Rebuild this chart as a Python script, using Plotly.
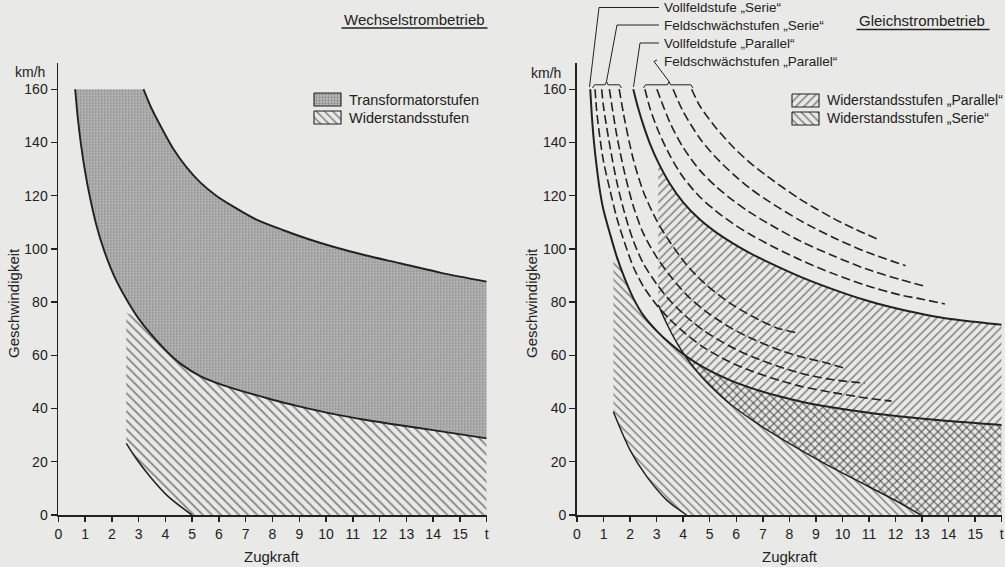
import plotly.graph_objects as go

W, H = 1005, 567
BG = "#e9e9e7"
INK = "#222222"
FONT = "Liberation Sans"

# ---------------- data : Wechselstrombetrieb (left) ----------------
F_MAX = 16.0
x_tick_vals = list(range(0, 17))
x_tick_text = [str(v) for v in range(0, 16)] + ["t"]
y_tick_vals = [0, 20, 40, 60, 80, 100, 120, 140, 160]
y_tick_text = [str(v) for v in y_tick_vals]

ac_main_x = [0.63, 0.72, 0.85, 1.0, 1.19, 1.42, 1.69, 2.1, 2.56, 3.0, 3.43, 4.05, 4.6, 5.3, 6.2, 7.16, 8.0, 9.03, 10.2, 11.5, 12.7, 14.0, 16.0]
ac_main_y = [160, 150, 139, 129, 119, 109, 100, 89.5, 80.8, 73.8, 68.3, 61.5, 56.6, 52.2, 48.6, 45.7, 43.3, 40.7, 38.1, 35.7, 33.8, 31.9, 28.8]
ac_upper_x = [3.18, 3.45, 3.75, 4.3, 4.8, 5.3, 5.9, 6.54, 7.4, 8.41, 9.3, 10.27, 11.5, 12.76, 14.3, 16.0]
ac_upper_y = [160, 153.5, 147.5, 137.5, 130.5, 125, 120, 115.9, 111, 107, 103.8, 100.8, 97.5, 94.6, 91, 87.7]
ac_res_x = [2.54, 2.9, 3.43, 4.1, 4.99]
ac_res_y = [26.9, 21.3, 14.4, 7.0, 0]
ac_res_left = 2.54
ac_res_top = 76

# ---------------- data : Gleichstrombetrieb (right) ----------------
dc_sv_x = [0.5, 0.56, 0.64, 0.74, 0.86, 1.0, 1.24, 1.5, 1.8, 2.12, 2.5, 3.0, 3.5, 4.13, 4.8, 5.76, 6.6, 7.65, 8.5, 9.53, 11.0, 12.2, 14.0, 16.0]
dc_sv_y = [160, 150, 140, 131, 122, 114.5, 105.8, 97, 88.8, 81.5, 75, 69.2, 64.5, 59.5, 55.3, 50.7, 47.6, 44.5, 42.5, 40.6, 38.4, 37, 35.3, 33.8]

dc_pv_x = [2.12, 2.3, 2.5, 2.75, 3.06, 3.5, 4.0, 4.63, 5.2, 5.89, 6.5, 7.14, 8.4, 9.65, 10.91, 12.17, 13.42, 14.6, 16.0]
dc_pv_y = [160, 153, 146.5, 139.5, 132.5, 124.5, 117.5, 111, 106.5, 102, 98.5, 95.3, 89.6, 84.8, 80.6, 77.3, 74.7, 73, 71.5]

dc_s1_x = [0.68, 0.74, 0.86, 1.0, 1.24, 1.5, 1.8, 2.12, 2.5, 3.0, 3.5, 4.13, 4.8, 5.76, 6.6, 7.65, 8.5, 9.53, 11.0, 11.85]
dc_s1_y = [160, 152, 142, 132.8, 122.2, 111.6, 102.1, 93.3, 85.9, 78.9, 73.5, 67.8, 62.8, 57.5, 54, 50.5, 48.2, 46.2, 43.8, 42.8]
dc_s2_x = [0.93, 1.0, 1.24, 1.5, 1.8, 2.12, 2.5, 3.0, 3.5, 4.13, 4.8, 5.76, 6.6, 7.65, 8.5, 9.53, 10.85]
dc_s2_y = [160, 153.4, 138.6, 125.1, 113.2, 103.1, 94.5, 86.8, 80.6, 74.4, 69.1, 63.4, 59.5, 55.6, 53.1, 51, 49.5]
dc_s3_x = [1.22, 1.5, 1.8, 2.12, 2.5, 3.0, 3.5, 4.13, 4.8, 5.76, 6.6, 7.65, 8.5, 9.3, 10.09]
dc_s3_y = [160, 142.6, 128.3, 116.1, 105.8, 96.9, 90, 82.7, 76.9, 70.5, 66.2, 61.9, 59.3, 57.4, 55.1]
dc_s4_x = [1.59, 1.8, 2.12, 2.5, 3.0, 3.5, 4.13, 4.8, 5.76, 6.6, 7.5, 8.34]
dc_s4_y = [160, 148.3, 133.7, 121.5, 110.7, 102.6, 94, 87.1, 79.6, 74.7, 70.4, 68.3]

dc_p1_x = [2.56, 2.75, 3.06, 3.5, 4.0, 4.63, 5.2, 5.89, 6.5, 7.14, 8.4, 9.65, 10.91, 12.17, 13.0, 13.86]
dc_p1_y = [160, 152.8, 144.4, 135.1, 126.9, 119.5, 114.5, 109.4, 105.6, 102.1, 95.9, 90.7, 86.2, 82.7, 81.1, 79.3]
dc_p2_x = [3.01, 3.5, 4.0, 4.63, 5.2, 5.89, 6.5, 7.14, 8.4, 9.65, 10.91, 12.17, 13.17]
dc_p2_y = [160, 147.5, 138.1, 129.5, 123.8, 118.1, 113.8, 109.9, 103, 97.4, 92.4, 88.5, 85.8]
dc_p3_x = [3.62, 4.0, 4.63, 5.2, 5.89, 6.5, 7.14, 8.4, 9.65, 10.91, 12.38]
dc_p3_y = [160, 151.6, 141.5, 134.7, 128, 122.9, 118.4, 110.7, 104.3, 98.8, 93.7]
dc_p4_x = [4.32, 4.63, 5.2, 5.89, 6.5, 7.14, 8.4, 9.65, 10.5, 11.41]
dc_p4_y = [160, 153.7, 145.9, 138.2, 132.5, 127.5, 118.7, 111.5, 107.3, 103.3]

dc_sr_x = [1.37, 2.0, 2.63, 3.38, 4.13]
dc_sr_y = [38.8, 24.4, 14.4, 5.6, 0]
dc_sr_left = 1.37
dc_sr_top = 95

dc_pr_x = [3.06, 3.4, 3.8, 4.13, 4.6, 5.0, 5.76, 6.7, 7.65, 8.4, 9.65, 10.91, 12.17, 12.95]
dc_pr_y = [79, 71.5, 64, 59, 53, 48.7, 41.8, 35, 29, 24.6, 17.6, 11.1, 4.5, 0]

# ---------------- figure ----------------
fig = go.Figure()

def hatch(shape, size):
    return dict(shape=shape, size=size, solidity=0.28, fgcolor="#262626",
                bgcolor="rgba(0,0,0,0)")

stipple = dict(shape=".", size=3, solidity=0.45, fgcolor="#555555", bgcolor="#c0c0c0")

# left: transformer region
fig.add_trace(go.Scatter(x=ac_main_x + ac_upper_x[::-1], y=ac_main_y + ac_upper_y[::-1],
                         fill="toself", fillcolor="rgba(0,0,0,0)", fillpattern=stipple,
                         mode="none", xaxis="x", yaxis="y", hoverinfo="skip"))
# left: resistance region
sel = [i for i, v in enumerate(ac_main_x) if v >= 3.0]
px_ = [ac_res_x[0], ac_res_left] + [ac_main_x[i] for i in sel] + [F_MAX] + ac_res_x[::-1]
py_ = [ac_res_y[0], ac_res_top] + [ac_main_y[i] for i in sel] + [0] + ac_res_y[::-1]
fig.add_trace(go.Scatter(x=px_, y=py_, fill="toself", fillcolor="rgba(0,0,0,0)",
                         fillpattern=hatch("\\", 6.4), mode="none", xaxis="x", yaxis="y",
                         hoverinfo="skip"))

# right: serie resistance region
sel = [i for i, v in enumerate(dc_sv_x) if v >= 1.5]
px_ = [dc_sr_x[0], dc_sr_left] + [dc_sv_x[i] for i in sel] + [F_MAX] + dc_sr_x[::-1]
py_ = [dc_sr_y[0], dc_sr_top] + [dc_sv_y[i] for i in sel] + [0] + dc_sr_y[::-1]
fig.add_trace(go.Scatter(x=px_, y=py_, fill="toself", fillcolor="rgba(0,0,0,0)",
                         fillpattern=hatch("\\", 5.8), mode="none", xaxis="x2", yaxis="y2",
                         hoverinfo="skip"))
# right: parallel resistance region
sel = [i for i, v in enumerate(dc_pv_x) if v >= dc_pr_x[0]]
px_ = [dc_pr_x[0]] + [dc_pv_x[i] for i in sel] + [F_MAX] + dc_pr_x[::-1]
py_ = [dc_pr_y[0]] + [dc_pv_y[i] for i in sel] + [0] + dc_pr_y[::-1]
fig.add_trace(go.Scatter(x=px_, y=py_, fill="toself", fillcolor="rgba(0,0,0,0)",
                         fillpattern=hatch("/", 5.8), mode="none", xaxis="x2", yaxis="y2",
                         hoverinfo="skip"))

def curve(x, y, ax, width=1.8, dash="solid"):
    fig.add_trace(go.Scatter(x=x, y=y, mode="lines", xaxis=ax[0], yaxis=ax[1],
                             line=dict(color=INK, width=width, dash=dash, shape="spline", smoothing=0.8),
                             hoverinfo="skip"))

L = ("x", "y")
R = ("x2", "y2")
curve(ac_main_x, ac_main_y, L, 1.9)
curve(ac_upper_x, ac_upper_y, L, 1.9)
curve(ac_res_x, ac_res_y, L, 1.6)

curve(dc_sv_x, dc_sv_y, R, 2.0)
curve(dc_pv_x, dc_pv_y, R, 2.0)
curve(dc_sr_x, dc_sr_y, R, 1.5)
curve(dc_pr_x, dc_pr_y, R, 1.5)
for xs, ys in [(dc_s1_x, dc_s1_y), (dc_s2_x, dc_s2_y), (dc_s3_x, dc_s3_y), (dc_s4_x, dc_s4_y),
               (dc_p1_x, dc_p1_y), (dc_p2_x, dc_p2_y), (dc_p3_x, dc_p3_y), (dc_p4_x, dc_p4_y)]:
    curve(xs, ys, R, 1.6, dash="9px,4px")

# legend swatches (decoration, pixel coordinates on overlay axis)
def swatch(x0, y0, pattern):
    fig.add_trace(go.Scatter(x=[x0, x0 + 27, x0 + 27, x0, x0], y=[y0, y0, y0 + 13, y0 + 13, y0],
                             fill="toself", fillcolor="rgba(0,0,0,0)", fillpattern=pattern,
                             mode="lines", line=dict(color=INK, width=1.1),
                             xaxis="x3", yaxis="y3", hoverinfo="skip"))

swatch(314, 93, stipple)
swatch(314, 111, hatch("\\", 5.8))
swatch(792, 94, hatch("/", 5.8))
swatch(792, 112, hatch("\\", 5.8))

# ---------------- axes ----------------
ydom = [(H - 515) / H, (H - 62.6) / H]
common_x = dict(range=[0, F_MAX], tickvals=x_tick_vals, ticktext=x_tick_text, ticks="outside",
                ticklen=5, tickwidth=1.4, tickcolor=INK, showline=True, linewidth=1.8, linecolor=INK,
                showgrid=False, zeroline=False, fixedrange=True,
                tickfont=dict(family=FONT, size=14, color=INK))
common_y = dict(range=[0, 170], tickvals=y_tick_vals, ticktext=y_tick_text, ticks="outside",
                ticklen=6, tickwidth=1.4, tickcolor=INK, showline=True, linewidth=1.8, linecolor=INK,
                showgrid=False, zeroline=False, fixedrange=True, domain=ydom,
                tickfont=dict(family=FONT, size=14, color=INK))

fig.update_layout(
    width=W, height=H, margin=dict(l=0, r=0, t=0, b=0, autoexpand=False),
    paper_bgcolor=BG, plot_bgcolor="rgba(0,0,0,0)", showlegend=False,
    font=dict(family=FONT, color=INK, size=14),
    xaxis=dict(domain=[58.3 / W, 486.7 / W], anchor="y", **common_x),
    yaxis=dict(anchor="x", **common_y),
    xaxis2=dict(domain=[577 / W, 1001.7 / W], anchor="y2", **common_x),
    yaxis2=dict(anchor="x2", **common_y),
    xaxis3=dict(domain=[0, 1], range=[0, W], visible=False, anchor="y3", fixedrange=True),
    yaxis3=dict(domain=[0, 1], range=[H, 0], visible=False, anchor="x3", fixedrange=True),
)

# ---------------- texts & decorations ----------------
def text(x, y, s, size=14, xanchor="left", angle=0):
    fig.add_annotation(x=x, y=y, xref="x3", yref="y3", text=s, showarrow=False,
                       xanchor=xanchor, yanchor="middle", textangle=angle,
                       font=dict(family=FONT, size=size, color=INK))

def path(pts, width=1.0):
    d = "M " + " L ".join(f"{a},{b}" for a, b in pts)
    fig.add_shape(type="path", path=d, xref="x3", yref="y3",
                  line=dict(color=INK, width=width))

text(341.5, 19, "Wechselstrombetrieb", 15)
path([(341.5, 28), (487.5, 28)], 1.4)
text(856.5, 20, "Gleichstrombetrieb", 15)
path([(856.5, 29.5), (989.5, 29.5)], 1.4)

text(29.5, 72, "km/h", 14, "center")
text(546, 73, "km/h", 14, "center")
text(13, 303, "Geschwindigkeit", 15, "center", -90)
text(531, 303, "Geschwindigkeit", 15, "center", -90)
text(272, 556, "Zugkraft", 15, "center")
text(790, 556, "Zugkraft", 15, "center")

text(347, 99.5, "Transformatorstufen", 14.5)
text(347, 117.5, "Widerstandsstufen", 14.5)
text(825, 100, "Widerstandsstufen \u201eParallel\u201c", 14)
text(825, 118, "Widerstandsstufen \u201eSerie\u201c", 14)

text(662, 7.5, "Vollfeldstufe \u201eSerie\u201c", 13.5)
text(662, 25, "Feldschw\u00e4chstufen \u201eSerie\u201c", 13.5)
text(662, 43, "Vollfeldstufe \u201eParallel\u201c", 13.5)
text(662, 61, "Feldschw\u00e4chstufen \u201eParallel\u201c", 13.5)

path([(659, 7.5), (599, 7.5), (589.5, 87)])
path([(659, 25), (617, 25), (606.5, 81.5)])
path([(659, 43), (640, 43), (633.5, 87)])
path([(657, 60), (654, 61.5), (669, 81.5)])
# braces
path([(592.5, 88), (594.5, 84.8), (605, 84.8), (606.5, 81.5), (608, 84.8), (619.5, 84.8), (621.5, 88)])
path([(643.5, 88), (645.5, 84.8), (667.5, 84.8), (669, 81.5), (670.5, 84.8), (691, 84.8), (693, 88)])

fig.write_html(
    "out.html",
    config={"displayModeBar": False, "staticPlot": True},
    post_script="document.body.style.margin='0px';document.body.style.padding='0px';"
                "document.documentElement.style.overflow='hidden';",
)
